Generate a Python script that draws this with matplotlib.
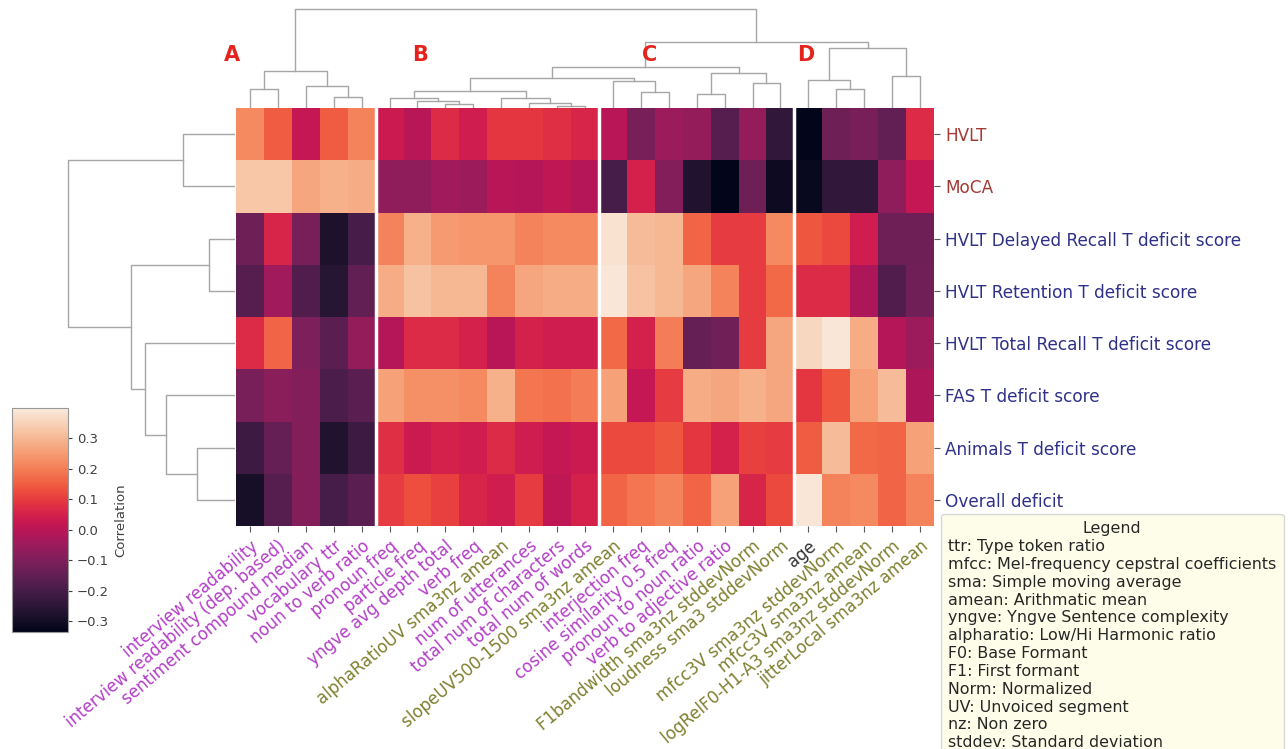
import matplotlib
matplotlib.use("Agg")
import matplotlib.pyplot as plt
import numpy as np
import seaborn as sns

# ---- data -------------------------------------------------------------
row_labels = [
    "HVLT", "MoCA", "HVLT Delayed Recall T deficit score",
    "HVLT Retention T deficit score", "HVLT Total Recall T deficit score",
    "FAS T deficit score", "Animals T deficit score", "Overall deficit",
]
row_kind = ["screen", "screen", "deficit", "deficit", "deficit", "deficit", "deficit", "deficit"]

cols_A = ["interview readability", "interview readability (dep. based)",
          "sentiment compound median", "vocabulary ttr", "noun to verb ratio"]
cols_B = ["pronoun freq", "particle freq", "yngve avg depth total", "verb freq",
          "alphaRatioUV sma3nz amean", "num of utterances", "total num of characters",
          "total num of words"]
cols_C = ["slopeUV500-1500 sma3nz amean", "interjection freq", "cosine similarity 0.5 freq",
          "pronoun to noun ratio", "verb to adjective ratio",
          "F1bandwidth sma3nz stddevNorm", "loudness sma3 stddevNorm"]
cols_D = ["age", "mfcc3V sma3nz stddevNorm", "mfcc3V sma3nz amean",
          "logRelF0-H1-A3 sma3nz stddevNorm", "jitterLocal sma3nz amean"]

kind_A = ["ling"] * 5
kind_B = ["ling", "ling", "ling", "ling", "acou", "ling", "ling", "ling"]
kind_C = ["acou", "ling", "ling", "ling", "ling", "acou", "acou"]
kind_D = ["demo", "acou", "acou", "acou", "acou"]

vals_A = [
    [0.22, 0.15, 0.02, 0.15, 0.21],
    [0.33, 0.33, 0.27, 0.29, 0.28],
    [-0.13, 0.06, -0.11, -0.28, -0.20],
    [-0.17, -0.04, -0.18, -0.26, -0.15],
    [0.07, 0.16, -0.10, -0.16, -0.06],
    [-0.11, -0.08, -0.09, -0.19, -0.16],
    [-0.22, -0.14, -0.09, -0.27, -0.22],
    [-0.29, -0.17, -0.09, -0.20, -0.16],
]
vals_B = [
    [0.03, 0.00, 0.07, 0.04, 0.09, 0.09, 0.08, 0.06],
    [-0.07, -0.07, -0.04, -0.05, 0.00, -0.01, 0.01, -0.01],
    [0.21, 0.29, 0.25, 0.24, 0.24, 0.21, 0.22, 0.22],
    [0.28, 0.32, 0.30, 0.30, 0.21, 0.27, 0.28, 0.28],
    [-0.01, 0.07, 0.07, 0.05, 0.00, 0.05, 0.04, 0.04],
    [0.26, 0.23, 0.23, 0.22, 0.29, 0.19, 0.18, 0.20],
    [0.08, 0.03, 0.05, 0.04, 0.07, 0.04, 0.02, 0.03],
    [0.10, 0.13, 0.11, 0.06, 0.04, 0.10, 0.01, 0.05],
]
vals_C = [
    [0.00, -0.11, -0.05, -0.06, -0.17, -0.06, -0.24],
    [-0.20, 0.05, -0.09, -0.27, -0.335, -0.13, -0.31],
    [0.38, 0.31, 0.30, 0.16, 0.10, 0.10, 0.22],
    [0.39, 0.32, 0.30, 0.27, 0.21, 0.10, 0.17],
    [0.17, 0.05, 0.20, -0.14, -0.12, 0.10, 0.27],
    [0.26, 0.02, 0.10, 0.28, 0.27, 0.29, 0.27],
    [0.12, 0.12, 0.14, 0.09, 0.05, 0.11, 0.10],
    [0.16, 0.19, 0.21, 0.16, 0.26, 0.06, 0.12],
]
vals_D = [
    [-0.335, -0.13, -0.11, -0.15, 0.07],
    [-0.32, -0.24, -0.24, -0.07, 0.02],
    [0.14, 0.12, 0.04, -0.13, -0.13],
    [0.07, 0.07, -0.02, -0.18, -0.12],
    [0.36, 0.39, 0.28, -0.01, -0.05],
    [0.09, 0.14, 0.26, 0.31, -0.02],
    [0.15, 0.31, 0.17, 0.16, 0.26],
    [0.39, 0.21, 0.22, 0.16, 0.21],
]

# dendrogram merges: (left id, right id, height); ids >= n are earlier merges
col_merges = [
    (11, 12, 2.0), (7, 8, 3.7), (10, 25, 5.3), (6, 26, 7.3), (5, 28, 9.7),
    (9, 27, 10.3), (29, 30, 17.0), (3, 4, 11.0), (0, 1, 19.0), (2, 32, 22.0),
    (33, 34, 37.0), (14, 15, 16.3), (13, 36, 27.3), (31, 37, 29.7), (16, 17, 13.7),
    (18, 19, 24.7), (39, 40, 35.3), (38, 41, 40.7), (21, 22, 19.0), (20, 43, 28.0),
    (23, 24, 32.0), (44, 45, 60.3), (42, 46, 66.0), (35, 47, 98.7),
]
row_merges = [
    (0, 1, 51.7), (2, 3, 25.7), (6, 7, 37.7), (5, 10, 69.3), (4, 11, 89.7),
    (9, 12, 104.0), (8, 13, 167.3),
]

legend_entries = [
    "ttr: Type token ratio",
    "mfcc: Mel-frequency cepstral coefficients",
    "sma: Simple moving average",
    "amean: Arithmatic mean",
    "yngve: Yngve Sentence complexity",
    "alpharatio: Low/Hi Harmonic ratio",
    "F0: Base Formant",
    "F1: First formant",
    "Norm: Normalized",
    "UV: Unvoiced segment",
    "nz: Non zero",
    "stddev: Standard deviation",
]

# ---- assemble ---------------------------------------------------------
col_labels = cols_A + cols_B + cols_C + cols_D
col_kind = kind_A + kind_B + kind_C + kind_D
data = np.hstack([np.array(v) for v in (vals_A, vals_B, vals_C, vals_D)])
group_sizes = [len(cols_A), len(cols_B), len(cols_C), len(cols_D)]
n_rows, n_cols = data.shape

kind_color = {"ling": "#b23fc6", "acou": "#7f8030", "demo": "#333333"}
row_color = {"screen": "#a33a35", "deficit": "#2f3188"}
dendro_color = "0.65"

W, H = 1288, 749
fig = plt.figure(figsize=(W / 100, H / 100), dpi=100)


def fbox(x0, y0, x1, y1):
    """pixel box (top-left origin) -> figure fraction rect"""
    return [x0 / W, 1 - y1 / H, (x1 - x0) / W, (y1 - y0) / H]


def dendro_lines(merges, n):
    pos = {i: i + 0.5 for i in range(n)}
    hts = {i: 0.0 for i in range(n)}
    out = []
    for k, (a, b, h) in enumerate(merges):
        out.append(([pos[a], pos[a], pos[b], pos[b]], [hts[a], h, h, hts[b]]))
        pos[n + k] = (pos[a] + pos[b]) / 2
        hts[n + k] = h
    return out


cmap = sns.color_palette("rocket", as_cmap=True)
vmin, vmax = -0.335, 0.40

# heatmap
ax = fig.add_axes(fbox(236, 108, 934, 526))
mesh = ax.pcolormesh(np.arange(n_cols + 1), np.arange(n_rows + 1), data,
                     cmap=cmap, vmin=vmin, vmax=vmax)
ax.set_xlim(0, n_cols)
ax.set_ylim(n_rows, 0)
for s in ax.spines.values():
    s.set_visible(False)
for b in np.cumsum(group_sizes)[:-1]:
    ax.axvline(b, color="white", lw=2.5)

ax.set_xticks(np.arange(n_cols) + 0.5)
ax.set_xticklabels(col_labels, rotation=40, ha="right", rotation_mode="anchor", fontsize=12)
for t, k in zip(ax.get_xticklabels(), col_kind):
    t.set_color(kind_color[k])
ax.yaxis.tick_right()
ax.set_yticks(np.arange(n_rows) + 0.5)
ax.set_yticklabels(row_labels, fontsize=12.2)
for t, k in zip(ax.get_yticklabels(), row_kind):
    t.set_color(row_color[k])
ax.tick_params(axis="both", length=4, width=0.8, color="0.35", pad=4)

# column dendrogram
axt = fig.add_axes(fbox(236, 5, 934, 108))
for xs, ys in dendro_lines(col_merges, n_cols):
    axt.plot(xs, ys, color=dendro_color, lw=1.0)
axt.set_xlim(0, n_cols)
axt.set_ylim(0, 103)
axt.axis("off")
starts = np.concatenate([[0], np.cumsum(group_sizes)[:-1]])
for g, x0, dx in zip(["A", "B", "C", "D"], starts, [-0.15, 1.6, 1.8, 0.4]):
    axt.text(x0 + dx, 53, g, color="#e5231d", fontsize=15, fontweight="bold",
             ha="center", va="center")

# row dendrogram
axl = fig.add_axes(fbox(60, 108, 235, 526))
for xs, ys in dendro_lines(row_merges, n_rows):
    axl.plot(ys, xs, color=dendro_color, lw=1.0)
axl.set_xlim(175, 0)
axl.set_ylim(n_rows, 0)
axl.axis("off")

# colorbar
cax = fig.add_axes(fbox(12, 408, 68, 632))
cb = fig.colorbar(mesh, cax=cax)
cb.set_ticks([-0.3, -0.2, -0.1, 0.0, 0.1, 0.2, 0.3])
cb.ax.tick_params(labelsize=9.5, colors="0.25", length=3)
cb.outline.set_edgecolor("0.6")
cb.set_label("Correlation", fontsize=9.5, color="0.25")

# abbreviation legend
handles = [plt.Line2D([], [], alpha=0) for _ in legend_entries]
leg = fig.legend(handles, legend_entries, title="Legend", loc="upper left",
                 bbox_to_anchor=(941 / W, 1 - 514 / H), handlelength=0,
                 handletextpad=0, fontsize=11.4, title_fontsize=11.4,
                 labelspacing=0.18, borderpad=0.45, borderaxespad=0,
                 facecolor="#fefde9", edgecolor="#d8d8d8", framealpha=1)
for t in leg.get_texts():
    t.set_color("0.15")
leg.get_title().set_color("0.15")

fig.savefig("out.png", dpi=100)
